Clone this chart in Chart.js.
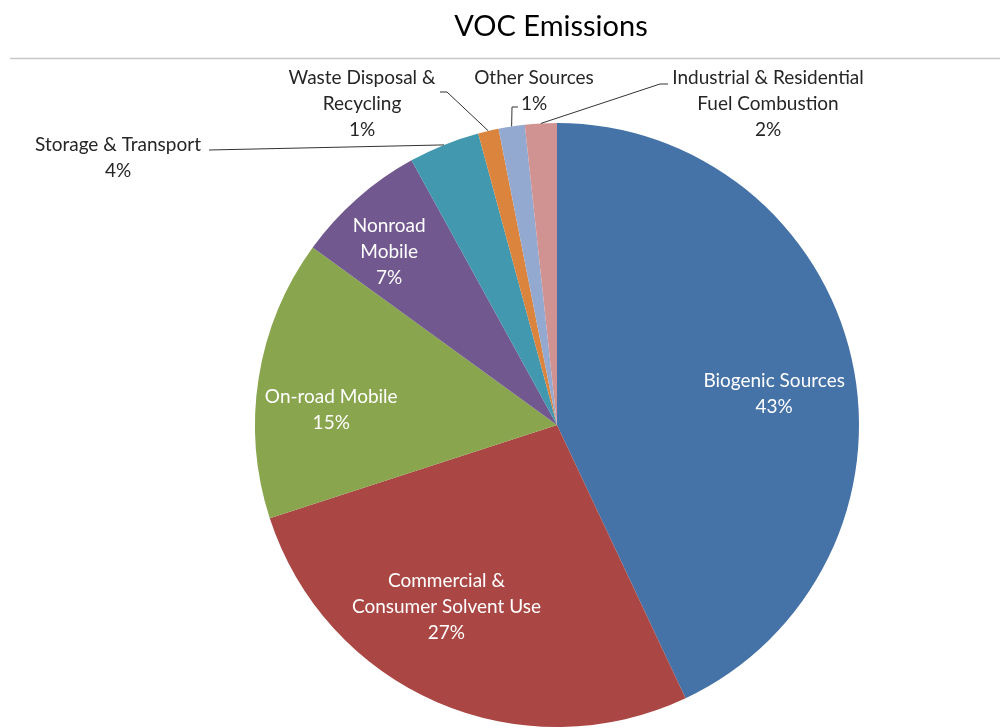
<!DOCTYPE html>
<html>
<head>
<meta charset="utf-8">
<script src="https://cdn.jsdelivr.net/npm/chart.js@4.4.1/dist/chart.umd.min.js"></script>
<style>
  html, body { margin: 0; padding: 0; background: #fff; }
  #wrap { width: 1000px; height: 728px; }
</style>
</head>
<body>
<div id="wrap"><canvas id="myChart" width="1000" height="728"></canvas></div>
<script>
const title = "VOC Emissions";
const categories = [
    "Biogenic Sources",
    "Commercial & Consumer Solvent Use",
    "On-road Mobile",
    "Nonroad Mobile",
    "Storage & Transport",
    "Waste Disposal & Recycling",
    "Other Sources",
    "Industrial & Residential Fuel Combustion"
];
const values = [43, 27, 15, 7, 3.8, 1.1, 1.4, 1.7];
const colors = ["#4572A7", "#AA4643", "#89A54E", "#71588F", "#4198AF", "#DB843D", "#93A9CF", "#D19392"];

// label placement (style only)
const FONT = "Lato, 'Open Sans', sans-serif";
const LINE_H = 26;
const labelLayout = [
    {inside: true, dx: 2, dy: 17, lines: ["Biogenic Sources"]},
    {inside: true, dx: -23, dy: -20, lines: ["Commercial &", "Consumer Solvent Use"]},
    {inside: true, dx: -8, dy: 19, lines: ["On-road Mobile"]},
    {inside: true, dx: -22, dy: -8, lines: ["Nonroad", "Mobile"]},
    {inside: false, x: 118, y: 145, lines: ["Storage & Transport"], leader: [[209, 150]]},
    {inside: false, x: 362, y: 78, lines: ["Waste Disposal &", "Recycling"], leader: [[440, 92], [447, 92]]},
    {inside: false, x: 534, y: 78, lines: ["Other Sources"], leader: [[518, 107], [512, 107]]},
    {inside: false, x: 768, y: 78, lines: ["Industrial & Residential", "Fuel Combustion"], leader: [[668, 84], [660, 84]]}
];

const total = values.reduce((a, b) => a + b, 0);

const labelPlugin = {
    id: "pieLabels",
    afterDraw(chart) {
        const ctx = chart.ctx;
        ctx.save();
        // title and rule
        ctx.fillStyle = "#000";
        ctx.font = "29px " + FONT;
        ctx.textAlign = "center";
        ctx.textBaseline = "middle";
        ctx.fillText(title, 551, 27);
        ctx.strokeStyle = "#c8c8c8";
        ctx.lineWidth = 1.5;
        ctx.beginPath();
        ctx.moveTo(10, 58.5);
        ctx.lineTo(1000, 58.5);
        ctx.stroke();

        const meta = chart.getDatasetMeta(0);
        ctx.font = "19px " + FONT;
        meta.data.forEach((arc, i) => {
            const p = arc.getProps(["x", "y", "startAngle", "endAngle", "outerRadius"], true);
            const mid = (p.startAngle + p.endAngle) / 2;
            const cfg = labelLayout[i];
            const lines = cfg.lines.concat([Math.round(values[i] / total * 100) + "%"]);
            if (cfg.inside) {
                const r = p.outerRadius * 0.73;
                const cx = p.x + Math.cos(mid) * r + cfg.dx;
                const cy = p.y + Math.sin(mid) * r + cfg.dy;
                const y0 = cy - (lines.length - 1) * LINE_H / 2;
                ctx.fillStyle = "#fff";
                lines.forEach((t, k) => ctx.fillText(t, cx, y0 + k * LINE_H));
            } else {
                ctx.fillStyle = "#262626";
                lines.forEach((t, k) => ctx.fillText(t, cfg.x, cfg.y + k * LINE_H));
                const ex = p.x + Math.cos(mid) * p.outerRadius;
                const ey = p.y + Math.sin(mid) * p.outerRadius;
                ctx.strokeStyle = "#333";
                ctx.lineWidth = 1;
                ctx.beginPath();
                cfg.leader.forEach((pt, k) => k === 0 ? ctx.moveTo(pt[0], pt[1]) : ctx.lineTo(pt[0], pt[1]));
                ctx.lineTo(ex, ey);
                ctx.stroke();
            }
        });
        ctx.restore();
    }
};

new Chart(document.getElementById("myChart"), {
    type: "pie",
    data: {
        labels: categories,
        datasets: [{
            data: values,
            backgroundColor: colors,
            borderWidth: 0,
            hoverOffset: 0
        }]
    },
    options: {
        responsive: false,
        animation: false,
        layout: {padding: {left: 255, right: 141, top: 123, bottom: 1}},
        plugins: {
            legend: {display: false},
            tooltip: {enabled: false}
        }
    },
    plugins: [labelPlugin]
});
</script>
</body>
</html>
